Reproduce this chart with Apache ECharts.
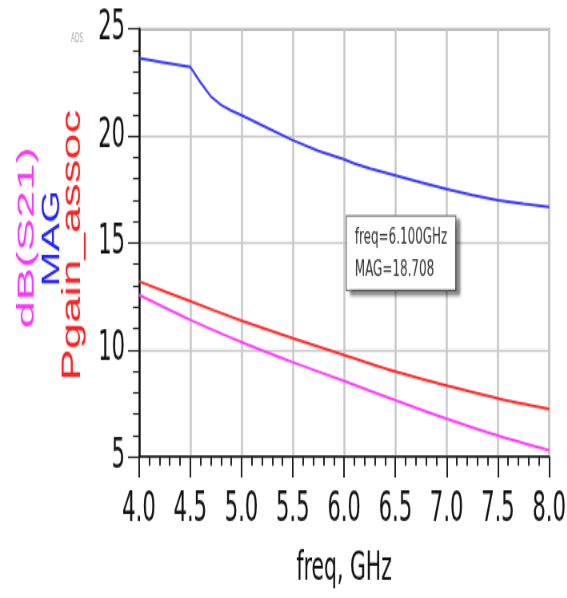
<!DOCTYPE html>
<html>
<head>
<meta charset="utf-8">
<script src="https://cdn.jsdelivr.net/npm/echarts@6/dist/echarts.min.js"></script>
<style>
  html { overflow: hidden; }
  html, body { margin: 0; padding: 0; background: #fff; width: 567px; height: 598px; }
  /* the plot is laid out in a 709x427 box and scaled to 567x598 (tall, narrow lettering) */
  #chart { width: 708.75px; height: 427px; transform: scale(0.8, 1.40047); transform-origin: 0 0; }
</style>
</head>
<body>
<div id="chart"></div>
<script>
// MAG sweep (GHz, dB)
const magFreq   = [4.0, 4.25, 4.5, 4.6, 4.7, 4.8, 4.9, 5.0, 5.25, 5.5, 5.75, 6.0, 6.1, 6.25, 6.5, 6.75, 7.0, 7.25, 7.5, 7.75, 8.0];
const magValues = [23.63, 23.43, 23.23, 22.50, 21.85, 21.45, 21.18, 20.97, 20.38, 19.80, 19.30, 18.90, 18.708, 18.48, 18.16, 17.82, 17.51, 17.23, 16.99, 16.82, 16.68];

// Pgain_assoc and dB(S21) sweep (GHz, dB)
const sweepFreq    = [4.0, 4.5, 5.0, 5.5, 6.0, 6.5, 7.0, 7.5, 8.0];
const pgainValues  = [13.20, 12.27, 11.36, 10.54, 9.76, 8.98, 8.33, 7.72, 7.23];
const s21Values    = [12.57, 11.40, 10.36, 9.42, 8.54, 7.64, 6.78, 5.99, 5.30];

// marker readout
const markerFreq = 6.1;
const markerMag  = 18.708;

const NARROW = '"Liberation Sans Narrow","Arial Narrow","DejaVu Sans Condensed",sans-serif';
const SANS   = '"Liberation Sans",Arial,sans-serif';

const pairs = (xs, ys) => xs.map((x, i) => [x, ys[i]]);
const line = (color, width) => ({ color: color, width: width });

const chart = echarts.init(document.getElementById('chart'));
chart.setOption({
  animation: false,
  backgroundColor: '#fff',
  grid: {
    left: 173.75, right: 22.5, top: 20.7, bottom: 100.9,
    containLabel: false, outerBoundsMode: 'none',
    show: true, borderColor: '#555', borderWidth: 1.5
  },
  xAxis: {
    type: 'value', min: 4, max: 8, interval: 0.5,
    axisLine: { show: true, onZero: false, lineStyle: line('#111', 1.5) },
    axisTick: { show: true, inside: false, length: 15, lineStyle: line('#222', 2) },
    minorTick: { show: true, splitNumber: 5, length: 6.5, lineStyle: line('#222', 2) },
    splitLine: { show: true, lineStyle: line('#c8c8c8', 2.5) },
    axisLabel: { margin: 24, fontFamily: NARROW, fontSize: 29.3, color: '#111', formatter: v => v.toFixed(1) },
    name: 'freq, GHz', nameLocation: 'middle', nameGap: 81,
    nameTextStyle: { fontFamily: NARROW, fontSize: 28.4, lineHeight: 28, verticalAlign: 'middle', color: '#111' }
  },
  yAxis: {
    type: 'value', min: 5, max: 25, interval: 5,
    axisLine: { show: true, onZero: false, lineStyle: line('#111', 2.5) },
    axisTick: { show: true, inside: false, length: 13.75, lineStyle: line('#222', 1.2) },
    minorTick: { show: true, splitNumber: 5, length: 7.5, lineStyle: line('#222', 1.2) },
    splitLine: { show: true, lineStyle: line('#c8c8c8', 1.4) },
    axisLabel: { margin: 17.5, fontFamily: NARROW, fontSize: 29.3, color: '#111' }
  },
  series: [
    {
      name: 'MAG', type: 'line', data: pairs(magFreq, magValues),
      showSymbol: false, lineStyle: line('#3a3aff', 2),
      markPoint: {
        symbol: 'circle', symbolSize: 0,
        data: [{ coord: [markerFreq, markerMag], value: markerMag }],
        label: {
          show: true, position: [-9.4, 38], align: 'left', verticalAlign: 'top',
          formatter: () => 'freq=' + markerFreq.toFixed(3) + 'GHz\nMAG=' + markerMag.toFixed(3),
          fontFamily: NARROW, fontSize: 16.6, lineHeight: 23.5, color: '#333',
          backgroundColor: '#fff', borderColor: '#7a7a7a', borderWidth: 1.3,
          padding: [3, 10, 2, 10],
          shadowColor: 'rgba(0,0,0,0.45)', shadowBlur: 3, shadowOffsetX: 5, shadowOffsetY: 3
        }
      }
    },
    {
      name: 'Pgain_assoc', type: 'line', data: pairs(sweepFreq, pgainValues), smooth: 0.3,
      showSymbol: false, lineStyle: line('#ff2a2a', 2)
    },
    {
      name: 'dB(S21)', type: 'line', data: pairs(sweepFreq, s21Values), smooth: 0.3,
      showSymbol: false, lineStyle: line('#ff3cff', 2)
    }
  ],
  graphic: [
    { type: 'text', z: 100, x: 88.75, y: 27.8,
      style: { text: 'ADS', fill: '#aaa', fontFamily: NARROW, fontSize: 8, align: 'left', verticalAlign: 'middle' } },
    { type: 'text', z: 100, x: 33.75, y: 169.6, rotation: Math.PI / 2, scaleX: 1.18,
      style: { text: 'dB(S21)', fill: '#ff33ff', fontFamily: SANS, fontSize: 30, align: 'center', verticalAlign: 'middle' } },
    { type: 'text', z: 100, x: 65, y: 170.3, rotation: Math.PI / 2, scaleX: 0.97,
      style: { text: 'MAG', fill: '#2222ff', fontFamily: SANS, fontSize: 31.25, align: 'center', verticalAlign: 'middle' } },
    { type: 'text', z: 100, x: 91.25, y: 175, rotation: Math.PI / 2, scaleX: 1.04,
      style: { text: 'Pgain_assoc', fill: '#ff2020', fontFamily: SANS, fontSize: 32.5, align: 'center', verticalAlign: 'middle' } }
  ]
});
</script>
</body>
</html>
